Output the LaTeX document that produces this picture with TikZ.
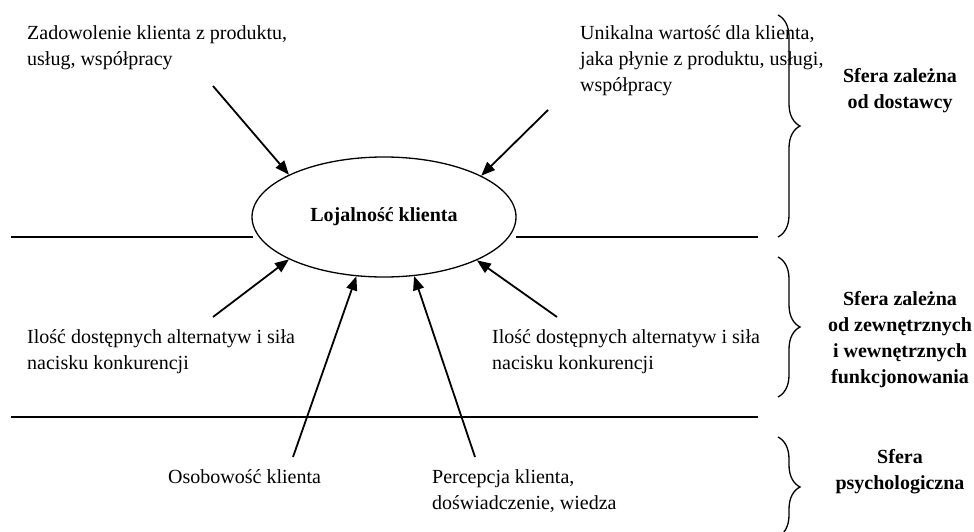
\documentclass[tikz,border=0pt]{standalone}
\usepackage{fontspec}
\setmainfont{Liberation Serif}
\usetikzlibrary{arrows.meta,decorations.pathreplacing,shapes.geometric}
\begin{document}
\begin{tikzpicture}[x=1pt,y=-1pt,
  every node/.style={font=\fontsize{20}{26}\selectfont, inner sep=0pt},
  txt/.style={align=left, anchor=base west},
  lbl/.style={align=center, anchor=base, font=\fontsize{20}{26}\selectfont\bfseries},
  arr/.style={line width=1.8pt, -{Triangle[length=14pt,width=11pt]}},
  sep/.style={line width=1.3pt},
  brc/.style={line width=1.3pt, decorate, decoration={brace, amplitude=22pt}}]
\useasboundingbox (0,0) rectangle (974,532);

\node[draw, ellipse, line width=1.3pt, minimum width=264pt, minimum height=120pt,
  font=\fontsize{20}{26}\selectfont\bfseries] (loj) at (384,217) {Lojalność klienta};

% base anchor = baseline of the last line
\node[txt] (zad) at (27,66) {Zadowolenie klienta z produktu,\\usług, współpracy};
\node[txt] (uni) at (580,92) {Unikalna wartość dla klienta,\\jaka płynie z produktu, usługi,\\współpracy};
\node[txt] (ilL) at (27,369) {Ilość dostępnych alternatyw i siła\\nacisku konkurencji};
\node[txt] (ilR) at (492,369) {Ilość dostępnych alternatyw i siła\\nacisku konkurencji};
\node[txt] (oso) at (168,483) {Osobowość klienta};
\node[txt] (per) at (432,509) {Percepcja klienta,\\doświadczenie, wiedza};

\node[lbl] (s1) at (900,109) {Sfera zależna\\od dostawcy};
\node[lbl] (s2) at (900,383) {Sfera zależna\\od zewnętrznych\\i wewnętrznych\\funkcjonowania};
\node[lbl] (s3) at (900,489) {Sfera\\psychologiczna};

\coordinate (a1) at (213,86);
\coordinate (a2) at (548,110);
\coordinate (a3) at (213,317);
\coordinate (a4) at (293,457);
\coordinate (a5) at (475,457);
\coordinate (a6) at (557,317);

\draw[arr] (a1) -- (loj.156);
\draw[arr] (a2) -- (loj.23.6);
\draw[arr] (a3) -- (loj.204);
\draw[arr] (a4) -- (loj.245);
\draw[arr] (a5) -- (loj.297);
\draw[arr] (a6) -- (loj.335.6);

\coordinate (l1a) at (11,237);
\coordinate (l1b) at (253,237);
\coordinate (l1c) at (516,237);
\coordinate (l1d) at (758,237);
\coordinate (l2a) at (11,417);
\coordinate (l2b) at (758,417);
\draw[sep] (l1a) -- (l1b);
\draw[sep] (l1c) -- (l1d);
\draw[sep] (l2a) -- (l2b);

\coordinate (b1a) at (778,15);
\coordinate (b1b) at (778,237);
\coordinate (b2a) at (778,257);
\coordinate (b2b) at (778,397);
\coordinate (b3a) at (778,437);
\coordinate (b3b) at (778,537);
\draw[brc] (b1a) -- (b1b);
\draw[brc] (b2a) -- (b2b);
\draw[brc] (b3a) -- (b3b);
\end{tikzpicture}
\end{document}
